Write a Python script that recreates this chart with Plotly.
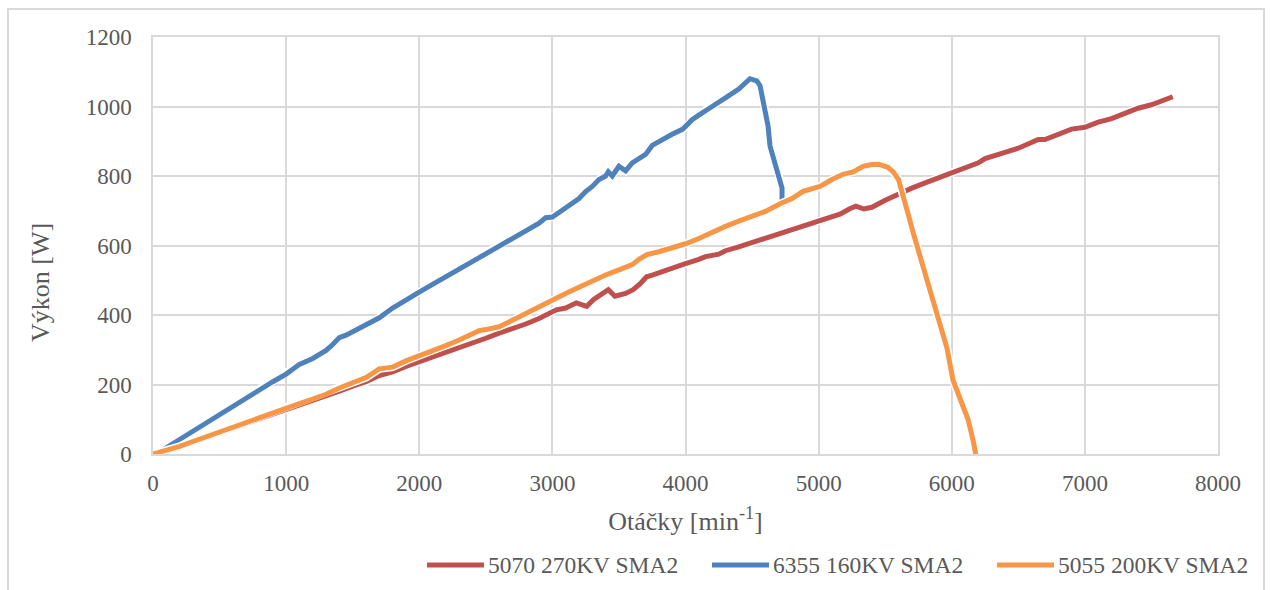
import plotly.graph_objects as go

# ---- data ----
red_name = "5070 270KV SMA2"
red_x = [0, 100, 200, 300, 400, 500, 600, 700, 800, 900, 1000, 1100, 1200, 1300, 1400, 1500, 1600,
         1700, 1800, 1900, 2000, 2100, 2200, 2300, 2400, 2500, 2600, 2700, 2800, 2900, 3030, 3100,
         3180, 3258, 3308, 3420, 3470, 3550, 3607, 3660, 3708, 3750, 3800, 3850, 3900, 4000, 4100,
         4150, 4250, 4300, 4400, 4500, 4600, 4700, 4800, 4900, 5000, 5100, 5160, 5230, 5280, 5340,
         5400, 5500, 5600, 5700, 5800, 5900, 6000, 6100, 6200, 6250, 6300, 6400, 6500, 6600, 6650,
         6700, 6800, 6900, 7000, 7100, 7200, 7300, 7400, 7500, 7600, 7660]
red_y = [0, 8, 22, 35, 48, 62, 75, 88, 102, 116, 128, 140, 154, 168, 181, 195, 208,
         226, 236, 252, 265, 280, 293, 307, 320, 333, 348, 360, 374, 390, 415, 420,
         435, 425, 444, 473, 454, 462, 473, 490, 510, 515, 522, 527, 535, 548, 560,
         568, 575, 585, 596, 608, 620, 632, 645, 658, 670, 683, 690, 705, 713, 705,
         710, 730, 748, 765, 780, 795, 810, 822, 838, 850, 855, 868, 880, 895, 905,
         905, 920, 935, 940, 955, 965, 980, 995, 1005, 1020, 1028]

blue_name = "6355 160KV SMA2"
blue_x = [0, 50, 100, 200, 300, 400, 500, 600, 700, 800, 900, 1000, 1100, 1200, 1300, 1350, 1400,
          1450, 1500, 1600, 1700, 1800, 1900, 2000, 2100, 2200, 2300, 2400, 2500, 2600, 2700, 2800,
          2900, 2950, 3000, 3050, 3100, 3200, 3250, 3300, 3350, 3400, 3420, 3450, 3500, 3550, 3600,
          3650, 3700, 3750, 3800, 3900, 3980, 4050, 4100, 4160, 4200, 4300, 4400, 4484, 4535, 4560,
          4597, 4620, 4635, 4672, 4710, 4725, 4725]
blue_y = [0, 5, 18, 42, 68, 92, 115, 140, 162, 185, 208, 230, 258, 275, 298, 315, 335,
          342, 352, 368, 392, 420, 445, 466, 488, 510, 532, 555, 577, 598, 620, 642,
          664, 680, 682, 695, 708, 735, 755, 770, 790, 800, 812, 800, 828, 815, 838,
          852, 862, 888, 900, 920, 935, 962, 975, 992, 1000, 1025, 1050, 1080, 1074, 1060,
          992, 944, 886, 839, 790, 765, 712]

orange_name = "5055 200KV SMA2"
orange_x = [0, 100, 200, 300, 400, 500, 600, 700, 800, 900, 1000, 1100, 1200, 1300, 1400, 1500,
            1600, 1700, 1800, 1900, 2000, 2100, 2200, 2300, 2400, 2450, 2500, 2600, 2700, 2800,
            2900, 3000, 3100, 3200, 3300, 3400, 3500, 3600, 3650, 3710, 3800, 3900, 4000, 4100,
            4200, 4300, 4400, 4500, 4600, 4710, 4800, 4883, 5010, 5100, 5183, 5260, 5333, 5400,
            5450, 5520, 5560, 5600, 5640, 5680, 5710, 5760, 5814, 5850, 5889, 5930, 5964, 6009,
            6050, 6090, 6122, 6160, 6195]
orange_y = [0, 10, 22, 36, 50, 63, 76, 90, 104, 118, 132, 145, 158, 172, 190, 205,
            220, 245, 250, 268, 282, 295, 312, 328, 345, 355, 358, 366, 385, 405,
            425, 443, 462, 480, 498, 515, 530, 545, 560, 574, 582, 592, 605, 620,
            638, 655, 670, 685, 698, 720, 735, 756, 770, 790, 805, 812, 828, 833,
            834, 825, 812, 790, 740, 680, 637, 570, 502, 455, 395, 350, 305, 213,
            170, 135, 100, 40, -30]

x_ticks = [0, 1000, 2000, 3000, 4000, 5000, 6000, 7000, 8000]
y_ticks = [0, 200, 400, 600, 800, 1000, 1200]

FONT = "Liberation Serif, Times New Roman, serif"
TXT = "#595959"
GRID = "#d9d9d9"

# plot area in pixels (for converting layout positions to paper coordinates)
PL, PR, PT, PB = 153, 1218, 37, 454
def px_x(p):
    return (p - PL) / (PR - PL)
def px_y(p):
    return (PB - p) / (PB - PT)

fig = go.Figure()
series = [(red_name, red_x, red_y, "#C0504D"),
          (blue_name, blue_x, blue_y, "#4F81BD"),
          (orange_name, orange_x, orange_y, "#F79646")]
for name, xs, ys, col in series:
    fig.add_trace(go.Scatter(x=xs, y=ys, mode="lines", showlegend=False, hoverinfo="skip",
                             line=dict(color="white", width=8)))
    fig.add_trace(go.Scatter(x=xs, y=ys, mode="lines", name=name, showlegend=False,
                             line=dict(color=col, width=5)))

fig.update_layout(
    width=1272, height=590,
    margin=dict(l=PL, r=1272 - PR, t=PT, b=590 - PB),
    paper_bgcolor="white", plot_bgcolor="white",
    font=dict(family=FONT, color=TXT, size=23),
    xaxis=dict(range=[0, 8000], tickvals=x_ticks, showgrid=True, gridcolor=GRID, gridwidth=1.5,
               zeroline=False, showline=True, linecolor=GRID, linewidth=1.5, mirror=True,
               ticks="outside", ticklen=8, tickcolor="rgba(0,0,0,0)",
               tickfont=dict(size=23, family=FONT, color=TXT),
               title=dict(text="Otáčky [min<sup>-1</sup>]", font=dict(size=26, family=FONT, color=TXT),
                          standoff=16)),
    yaxis=dict(range=[0, 1200], tickvals=y_ticks, showgrid=True, gridcolor=GRID, gridwidth=1.5,
               zeroline=False, showline=True, linecolor=GRID, linewidth=1.5, mirror=True,
               ticks="outside", ticklen=15, tickcolor="rgba(0,0,0,0)",
               tickfont=dict(size=23, family=FONT, color=TXT)),
    showlegend=False,
)

fig.add_annotation(text="Výkon [W]", textangle=-90, xref="paper", yref="paper",
                   x=px_x(40), y=px_y(283), showarrow=False,
                   font=dict(size=26, family=FONT, color=TXT), xanchor="center", yanchor="middle")

# legend (drawn manually to match the long line samples)
legend_starts = [427, 712, 997]
leg_y = px_y(565)
for (name, _, _, col), x0 in zip(series, legend_starts):
    fig.add_shape(type="line", xref="paper", yref="paper",
                  x0=px_x(x0), x1=px_x(x0 + 57), y0=leg_y, y1=leg_y,
                  line=dict(color=col, width=5))
    fig.add_annotation(text=name, xref="paper", yref="paper", x=px_x(x0 + 59), y=leg_y,
                       xanchor="left", yanchor="middle", showarrow=False,
                       font=dict(size=23.5, family=FONT, color=TXT))

# outer chart border
fig.add_shape(type="rect", xref="paper", yref="paper",
              x0=px_x(8), x1=px_x(1264), y0=px_y(620), y1=px_y(9),
              line=dict(color="#d9d9d9", width=2), fillcolor="rgba(0,0,0,0)", layer="below")

fig.write_html("out.html")
